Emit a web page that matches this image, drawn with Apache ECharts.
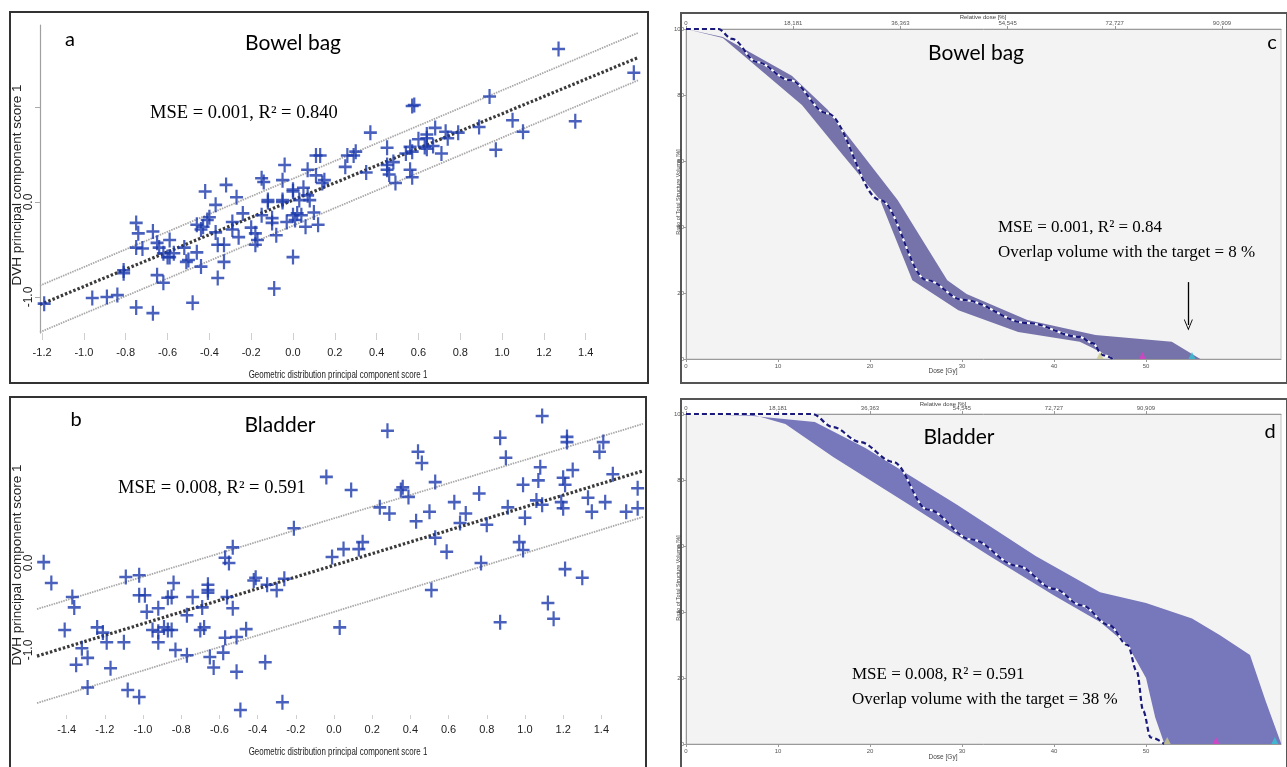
<!DOCTYPE html>
<html><head><meta charset="utf-8">
<script src="https://cdn.jsdelivr.net/npm/echarts@6/dist/echarts.min.js"></script>
<style>html,body{margin:0;padding:0;background:#fff}#c{width:1287px;height:767px}</style>
</head><body><div id="c"></div>
<script>
// ---------- Panel a : Bowel bag scatter ----------
const aX = [-1.19,-0.96,-0.89,-0.84,-0.81,-0.81,-0.75,-0.74,-0.75,-0.72,-0.75,-0.67,-0.67,-0.65,-0.64,-0.65,-0.62,-0.62,-0.60,-0.59,-0.59,-0.57,-0.52,-0.51,-0.50,-0.48,-0.46,-0.44,-0.46,-0.44,-0.43,-0.42,-0.41,-0.40,-0.37,-0.37,-0.36,-0.36,-0.33,-0.33,-0.29,-0.29,-0.27,-0.26,-0.24,-0.20,-0.18,-0.17,-0.18,-0.15,-0.12,-0.12,-0.10,-0.10,-0.09,-0.08,-0.05,-0.05,-0.03,0.00,0.00,0.00,0.02,0.01,0.04,0.03,0.06,0.08,0.07,0.10,0.12,
 1.27,1.63,0.94,0.57,0.58,1.05,1.35,0.37,1.10,0.89,0.79,0.68,0.73,0.64,0.64,0.60,0.74,0.67,0.63,0.64,0.71,0.56,0.57,0.54,0.45,0.30,0.29,0.26,0.25,0.35,0.45,0.45,0.46,0.48,0.49,0.56,0.57,0.97,0.13,0.15,
 -0.32,-0.15,-0.14,-0.04,-0.05,0.00,0.07,0.11,0.11,0.14,0.05];
const aY = [-1.07,-1.01,-1.00,-0.98,-0.72,-0.75,-0.22,-0.33,-0.48,-0.49,-1.11,-0.31,-1.17,-0.43,-0.48,-0.77,-0.85,-0.54,-0.58,-0.58,-0.40,-0.54,-0.48,-0.63,-0.61,-1.06,-0.53,-0.68,-0.24,-0.29,-0.26,0.11,-0.19,-0.16,-0.03,-0.32,-0.45,-0.80,-0.45,-0.63,-0.29,-0.21,0.05,-0.37,-0.12,-0.27,-0.33,-0.40,-0.45,-0.14,0.00,0.02,-0.17,-0.22,-0.91,-0.35,0.00,0.02,-0.21,0.11,-0.58,-0.14,-0.12,-0.19,-0.14,0.02,-0.26,0.02,0.07,-0.11,-0.24,
 1.61,1.36,1.11,1.01,1.02,0.86,0.85,0.73,0.74,0.79,0.73,0.78,0.74,0.71,0.67,0.66,0.67,0.59,0.58,0.56,0.51,0.58,0.53,0.51,0.57,0.53,0.49,0.49,0.37,0.31,0.39,0.34,0.29,0.42,0.20,0.34,0.26,0.55,0.49,0.23,
 0.18,0.25,0.21,0.39,0.23,0.13,0.34,0.49,0.28,0.20,0.15];
const aFitX = [-1.21, 1.65];
const aFitMid = [-1.08, 1.52];
const aFitUp = [-0.88, 1.78];
const aFitLo = [-1.37, 1.28];
const aXTicks = [-1.2,-1.0,-0.8,-0.6,-0.4,-0.2,0.0,0.2,0.4,0.6,0.8,1.0,1.2,1.4];
const aYLabels = [-1.0, 0.0];
const aYTicks = [-1.0, 0.0, 1.0];

// ---------- Panel b : Bladder scatter ----------
const bX = [-1.52,-1.48,-1.09,-1.02,-0.53,-0.57,-0.55,-0.21,-0.04,-0.41,-0.42,-0.26,-0.84,-0.66,0.28,0.44,0.46,0.53,0.35,0.36,0.39,0.09,0.24,0.29,0.43,0.50,0.63,0.69,0.76,0.66,0.80,0.53,0.59,0.77,0.91,1.00,0.97,0.99,0.87,0.90,0.99,1.07,1.08,1.09,1.06,1.09,1.20,1.21,1.19,1.20,1.22,1.22,1.25,1.21,1.30,1.33,1.35,1.39,1.41,1.42,1.46,1.53,1.59,1.59,-0.01,0.05,0.13,0.15,
 -1.37,-1.36,-1.41,-1.24,-1.21,-1.19,-1.32,-1.29,-1.35,-1.29,-1.17,-1.10,-1.08,-1.02,-1.02,-0.99,-0.98,-0.92,-0.95,-0.92,-0.89,-0.87,-0.85,-0.92,-0.87,-0.85,-0.83,-0.77,-0.77,-0.74,-0.70,-0.68,-0.69,-0.66,-0.66,-0.65,-0.63,-0.58,-0.57,-0.56,-0.53,-0.51,-0.51,-0.46,-0.49,-0.36,-0.27,-0.35,-0.30,0.51,0.03,0.87,1.12,1.15];
const bY = [0.01,-0.23,-0.16,-0.14,0.18,0.06,0.00,0.40,0.99,-0.17,-0.20,-0.18,-0.23,-0.25,1.52,1.28,1.15,0.93,0.84,0.87,0.76,0.84,0.64,0.57,0.48,0.59,0.70,0.57,0.80,0.46,0.44,0.29,0.13,0.00,0.64,0.52,0.24,0.15,1.44,1.21,0.90,0.95,1.10,1.69,0.72,0.67,0.98,0.90,0.70,0.63,1.45,1.39,1.07,-0.07,-0.17,0.75,0.59,1.28,1.39,0.70,1.02,0.59,0.86,0.63,0.07,0.16,0.16,0.24,
 -0.39,-0.51,-0.77,-0.74,-0.80,-0.91,-0.98,-1.09,-1.17,-1.43,-1.21,-0.91,-1.46,-1.54,-0.37,-0.37,-0.56,-0.52,-0.77,-0.79,-0.74,-0.77,-0.77,-0.91,-0.40,-0.39,-1.00,-0.60,-1.06,-0.39,-0.77,-0.74,-0.51,-0.31,-0.34,-1.08,-1.20,-1.03,-0.86,-0.39,-0.52,-0.85,-1.25,-0.76,-1.69,-1.14,-1.60,-0.25,-0.31,-0.31,-0.74,-0.68,-0.46,-0.64];
const bFitX = [-1.555, 1.618];
const bFitMid = [-1.07, 1.06];
const bFitUp = [-0.53, 1.60];
const bFitLo = [-1.61, 0.53];
const bXTicks = [-1.4,-1.2,-1.0,-0.8,-0.6,-0.4,-0.2,0.0,0.2,0.4,0.6,0.8,1.0,1.2,1.4];
const bYLabels = [-1.0, 0.0];

// ---------- Panel c : Bowel bag DVH ----------
const cUpX = [0, 4, 11.5, 15.4, 23.0, 28.4, 30.5, 37.1, 44.5, 52.8, 55.9];
const cUpY = [100, 97.6, 85.8, 75.5, 48.2, 23.9, 19.7, 11.8, 7.3, 5.2, 0];
const cLowX = [0, 4, 12.6, 17.0, 21.1, 24.6, 29.6, 36.1, 42.8, 44.2, 46.4];
const cLowY = [100, 97.3, 77, 62, 48.2, 23.9, 14.8, 8.2, 5.2, 3.3, 0];
const cPredX = [0, 3.5, 5, 7.7, 11.3, 15.3, 21.1, 26.2, 30.1, 37.1, 42.8, 44.2, 45.3, 46.4];
const cPredY = [100, 100, 97, 90, 84.5, 74.5, 48.2, 23.9, 17.9, 10.9, 6.7, 4.8, 1.2, 0];
const cMarkX = [45.0, 49.6, 55.0];
const cDoseTicks = [0, 10, 20, 30, 40, 50];
const cRelTicks = [0, 18.181, 36.363, 54.545, 72.727, 90.909];
const volTicks = [0, 20, 40, 60, 80, 100];

// ---------- Panel d : Bladder DVH ----------
const dUpX = [0, 7, 14, 19.5, 29.5, 38, 45, 50, 55, 58, 61.3, 63, 64.7];
const dUpY = [100, 99.5, 97.6, 89.7, 72.4, 57, 46, 42.7, 38, 33, 27, 13, 0];
const dLowX = [0, 7, 10.8, 16, 24.3, 33, 40, 45, 48, 50, 51, 52];
const dLowY = [100, 100, 97, 87, 72.4, 57, 45, 37, 30, 20, 8, 0];
const dPredX = [0, 13.7, 16, 18.9, 22.5, 26.3, 31, 36, 40, 43, 46, 48, 49, 49.7, 50.5, 52];
const dPredY = [100, 100, 96, 91.5, 85.5, 71, 62, 54, 47, 42, 36, 30, 22, 10, 2, 0];
const dMarkX = [52.3, 57.6, 64.0];
const markColors = ['#c9c98a', '#e23cc4', '#34c4d4'];

const zip = (xs, ys) => xs.map((x, i) => [x, ys[i]]);
const PLUS = 'path://M5.8,0h2.4v5.8h5.8v2.4h-5.8v5.8h-2.4v-5.8h-5.8v-2.4h5.8z';
const narrow = '"Liberation Sans Narrow", "Arial Narrow", sans-serif';
const sans = '"Liberation Sans", Arial, sans-serif';
const serif = '"Liberation Serif", "Times New Roman", serif';
const title = 'Lato, "Open Sans", sans-serif';

function polyRender(upX, upY, lowX, lowY, color) {
  const pts = zip(upX, upY).concat(zip(lowX, lowY).reverse());
  return {
    data: pts,
    render: function (params, api) {
      if (params.dataIndex !== 0) return null;
      return { type: 'polygon', shape: { points: pts.map(p => api.coord(p)) }, style: { fill: color } };
    }
  };
}
const cPoly = polyRender(cUpX, cUpY, cLowX, cLowY, '#7673aa');
const dPoly = polyRender(dUpX, dUpY, dLowX, dLowY, '#7777bb');

function fitLine(xi, yi, xs, ys, color, width, dash) {
  return { type: 'line', xAxisIndex: xi, yAxisIndex: yi, data: zip(xs, ys), symbol: 'none', silent: true, z: 1,
    lineStyle: { color: color, width: width, type: dash } };
}

const chart = echarts.init(document.getElementById('c'), null, { renderer: 'canvas' });

function doseAxis(gi, max, ticks) {
  return { type: 'value', gridIndex: gi, position: 'bottom', min: 0, max: max,
    axisLine: { show: true, onZero: false, lineStyle: { color: '#9a9a9a' } },
    axisTick: { show: true, length: 3, customValues: ticks, lineStyle: { color: '#999' } },
    axisLabel: { customValues: ticks, fontSize: 6, color: '#555', margin: 4, fontFamily: sans },
    splitLine: { show: false } };
}
function relAxis(gi, max) {
  return { type: 'value', gridIndex: gi, position: 'top', min: 0, max: max,
    axisLine: { show: true, onZero: false, lineStyle: { color: '#9a9a9a' } },
    axisTick: { show: true, length: 3, customValues: cRelTicks, lineStyle: { color: '#999' } },
    axisLabel: { customValues: cRelTicks, fontSize: 6, color: '#555', margin: 3, fontFamily: sans, formatter: v => String(v).replace('.', ',') },
    splitLine: { show: false } };
}
function volAxis(gi) {
  return { type: 'value', gridIndex: gi, min: 0, max: 100,
    axisLine: { show: true, onZero: false, lineStyle: { color: '#9a9a9a' } },
    axisTick: { show: true, length: 2, customValues: volTicks, lineStyle: { color: '#999' } },
    axisLabel: { customValues: volTicks, fontSize: 6, color: '#555', margin: 2, fontFamily: sans },
    splitLine: { show: false } };
}

function dvhSeries(xi, yi, poly, predX, predY, markX, extra) {
  return [
    { type: 'custom', xAxisIndex: xi, yAxisIndex: yi, data: poly.data, renderItem: poly.render, silent: true, z: 2,
      encode: { x: 0, y: 1 } },
    { type: 'line', xAxisIndex: xi, yAxisIndex: yi, data: zip(predX, predY), symbol: 'none', smooth: 0.35, smoothMonotone: 'x',
      silent: true, z: 3, lineStyle: { color: '#ffffff', width: 2 } },
    Object.assign({ type: 'line', xAxisIndex: xi, yAxisIndex: yi, data: zip(predX, predY), symbol: 'none', smooth: 0.35, smoothMonotone: 'x',
      silent: true, z: 4, lineStyle: { color: '#1a1a7c', width: 2.2, type: [5, 3] } }, extra || {}),
    { type: 'scatter', xAxisIndex: xi, yAxisIndex: yi, symbol: 'triangle', symbolSize: [7, 7], symbolOffset: [0, -3.5], clip: false, z: 5, silent: true,
      data: markX.map((x, i) => ({ value: [x, 0], itemStyle: { color: markColors[i] } })) }
  ];
}

function txt(x, y, text, font, fill, align, extra) {
  return Object.assign({ type: 'text', x: x, y: y, z: 100, silent: true,
    style: { text: text, font: font, fill: fill, align: align, verticalAlign: 'middle', textAlign: align, textVerticalAlign: 'middle' } }, extra || {});
}

const option = {
  animation: false,
  backgroundColor: '#ffffff',
  grid: [
    { left: 40, top: 25, width: 598, height: 308, show: false },
    { left: 37, top: 400, width: 606, height: 315, show: false },
    { left: 686, top: 29, width: 595, height: 330, show: true, backgroundColor: '#f3f3f3', borderColor: '#c4c4c4', borderWidth: 1 },
    { left: 686, top: 414, width: 595, height: 330, show: true, backgroundColor: '#f3f3f3', borderColor: '#c4c4c4', borderWidth: 1 }
  ],
  xAxis: [
    { type: 'value', gridIndex: 0, min: -1.21, max: 1.65,
      axisLine: { show: false, onZero: false },
      axisTick: { show: true, inside: false, length: 7, customValues: aXTicks, lineStyle: { color: '#cfcfcf' } },
      axisLabel: { customValues: aXTicks, fontSize: 11, color: '#222', margin: 14, fontFamily: narrow, formatter: v => v.toFixed(1) },
      splitLine: { show: false } },
    { type: 'value', gridIndex: 1, min: -1.555, max: 1.618,
      axisLine: { show: false, onZero: false },
      axisTick: { show: true, length: 4, customValues: bXTicks, lineStyle: { color: '#cfcfcf' } },
      axisLabel: { customValues: bXTicks, fontSize: 11, color: '#222', margin: 9, fontFamily: narrow, formatter: v => v.toFixed(1) },
      splitLine: { show: false } },
    doseAxis(2, 64.67, cDoseTicks),
    relAxis(2, 100.92),
    doseAxis(3, 64.67, cDoseTicks),
    relAxis(3, 117.6)
  ],
  yAxis: [
    { type: 'value', gridIndex: 0, min: -1.379, max: 1.863,
      axisLine: { show: true, onZero: false, lineStyle: { color: '#a0a0a0', width: 1.2 } },
      axisTick: { show: true, length: 5, customValues: aYTicks, lineStyle: { color: '#aaa' } },
      axisLabel: { customValues: aYLabels, rotate: 90, fontSize: 12, color: '#222', margin: 5, fontFamily: sans, formatter: v => v.toFixed(1) },
      splitLine: { show: false } },
    { type: 'value', gridIndex: 1, min: -1.747, max: 1.874,
      axisLine: { show: false, onZero: false },
      axisTick: { show: false },
      axisLabel: { customValues: bYLabels, rotate: 90, fontSize: 12, color: '#222', margin: 2, fontFamily: sans, formatter: v => v.toFixed(1) },
      splitLine: { show: false } },
    volAxis(2),
    volAxis(3)
  ],
  series: [
    fitLine(0, 0, aFitX, aFitUp, '#a8a8a8', 1.8, [1.5, 1]),
    fitLine(0, 0, aFitX, aFitLo, '#a8a8a8', 1.8, [1.5, 1]),
    fitLine(0, 0, aFitX, aFitMid, '#3a3a3a', 3.2, [2.5, 2]),
    { type: 'scatter', xAxisIndex: 0, yAxisIndex: 0, data: zip(aX, aY), symbol: PLUS, symbolSize: [13, 15], z: 3,
      itemStyle: { color: '#1c3aac' } },
    fitLine(1, 1, bFitX, bFitUp, '#a8a8a8', 1.8, [1.5, 1]),
    fitLine(1, 1, bFitX, bFitLo, '#a8a8a8', 1.8, [1.5, 1]),
    fitLine(1, 1, bFitX, bFitMid, '#3a3a3a', 3.2, [2.5, 2]),
    { type: 'scatter', xAxisIndex: 1, yAxisIndex: 1, data: zip(bX, bY), symbol: PLUS, symbolSize: [13, 15], z: 3,
      itemStyle: { color: '#1c3aac' } },
    ...dvhSeries(2, 2, cPoly, cPredX, cPredY, cMarkX, {
      markLine: { silent: true, symbol: ['none', 'path://M5,0L10,9L9,9L5,1.8L1,9L0,9Z'], symbolSize: [9, 11],
        lineStyle: { color: '#000', width: 1.3, type: 'solid' }, label: { show: false },
        data: [[{ coord: [54.6, 23.3] }, { coord: [54.6, 10.3] }]] } }),
    ...dvhSeries(4, 3, dPoly, dPredX, dPredY, dMarkX)
  ],
  graphic: [
    { type: 'rect', shape: { x: 10, y: 12, width: 638, height: 371 }, style: { fill: 'none', stroke: '#333', lineWidth: 2 }, z: 100 },
    { type: 'rect', shape: { x: 10, y: 397, width: 636, height: 390 }, style: { fill: 'none', stroke: '#333', lineWidth: 2 }, z: 100 },
    { type: 'rect', shape: { x: 681, y: 13, width: 606, height: 370 }, style: { fill: 'none', stroke: '#555', lineWidth: 2 }, z: 100 },
    { type: 'rect', shape: { x: 681, y: 399, width: 606, height: 390 }, style: { fill: 'none', stroke: '#555', lineWidth: 2 }, z: 100 },
    // panel a
    txt(70, 40, 'a', '20px ' + title, '#000', 'center'),
    txt(293, 43, 'Bowel bag', '21px ' + title, '#000', 'center'),
    txt(150, 113, 'MSE = 0.001, R² = 0.840', '18.5px ' + serif, '#000', 'left'),
    txt(17, 185, 'DVH principal component score 1', '13.5px ' + sans, '#222', 'center', { rotation: Math.PI / 2 }),
    txt(338, 375, 'Geometric distribution principal component score 1', '11.5px ' + narrow, '#222', 'center', { scaleX: 0.69 }),
    // panel b
    txt(76, 420, 'b', '20px ' + title, '#000', 'center'),
    txt(280, 425, 'Bladder', '21px ' + title, '#000', 'center'),
    txt(118, 488, 'MSE = 0.008, R² = 0.591', '18.5px ' + serif, '#000', 'left'),
    txt(17, 565, 'DVH principal component score 1', '13.5px ' + sans, '#222', 'center', { rotation: Math.PI / 2 }),
    txt(338, 752, 'Geometric distribution principal component score 1', '11.5px ' + narrow, '#222', 'center', { scaleX: 0.69 }),
    // panel c
    txt(976, 53, 'Bowel bag', '21px ' + title, '#000', 'center'),
    txt(1272, 43, 'c', '20px ' + title, '#000', 'center'),
    txt(998, 228, 'MSE = 0.001, R² = 0.84', '17px ' + serif, '#000', 'left'),
    txt(998, 253, 'Overlap volume with the target = 8 %', '17px ' + serif, '#000', 'left'),
    txt(983, 17, 'Relative dose [%]', '6px ' + sans, '#444', 'center'),
    txt(943, 371, 'Dose [Gy]', '6.5px ' + sans, '#444', 'center'),
    txt(678, 192, 'Ratio of Total Structure Volume [%]', '5.5px ' + sans, '#444', 'center', { rotation: Math.PI / 2 }),
    // panel d
    txt(959, 437, 'Bladder', '21px ' + title, '#000', 'center'),
    txt(1270, 432, 'd', '20px ' + title, '#000', 'center'),
    txt(852, 675, 'MSE = 0.008, R² = 0.591', '17px ' + serif, '#000', 'left'),
    txt(852, 700, 'Overlap volume with the target = 38 %', '17px ' + serif, '#000', 'left'),
    txt(943, 404, 'Relative dose [%]', '6px ' + sans, '#444', 'center'),
    txt(943, 757, 'Dose [Gy]', '6.5px ' + sans, '#444', 'center'),
    txt(678, 578, 'Ratio of Total Structure Volume [%]', '5.5px ' + sans, '#444', 'center', { rotation: Math.PI / 2 })
  ]
};
chart.setOption(option);
</script></body></html>
